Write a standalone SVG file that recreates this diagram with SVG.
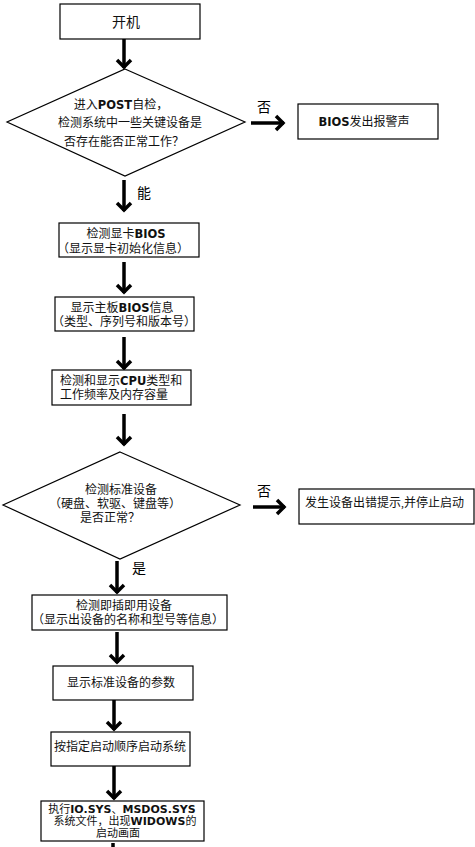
<svg xmlns="http://www.w3.org/2000/svg" width="475" height="847" viewBox="0 0 475 847">
<style>
.box{fill:#fff;stroke:#000;stroke-width:1.2}
.t{font-family:"Liberation Serif","Noto Sans CJK SC",serif;font-size:12px;fill:#111}
.m{text-anchor:middle}
.b{font-family:"DejaVu Sans","Liberation Sans",sans-serif;font-weight:bold;font-size:11.5px}
.lbl{font-family:"Liberation Serif","Noto Sans CJK SC",serif;font-size:14px;fill:#000;text-anchor:middle}
.c{stroke:#000;stroke-width:3.5;fill:none}
.s{font-size:11px}
.s .b{font-size:11px}
</style>
<defs>
<marker id="ah" viewBox="-12 -10 14 20" refX="0" refY="0" markerWidth="14" markerHeight="20" orient="auto" markerUnits="userSpaceOnUse">
<path d="M-8,-7 L-1,0 L-8,7" fill="none" stroke="#000" stroke-width="3.5"/>
</marker>
</defs>
<rect width="475" height="847" fill="#fff"/>
<g id="connectors">
<line class="c" x1="124" y1="39" x2="124" y2="68" marker-end="url(#ah)"/>
<line class="c" x1="251" y1="123" x2="284" y2="123" marker-end="url(#ah)"/>
<line class="c" x1="124" y1="180" x2="124" y2="211" marker-end="url(#ah)"/>
<line class="c" x1="124" y1="262" x2="124" y2="293" marker-end="url(#ah)"/>
<line class="c" x1="124" y1="337" x2="124" y2="369" marker-end="url(#ah)"/>
<line class="c" x1="124" y1="414" x2="124" y2="445" marker-end="url(#ah)"/>
<line class="c" x1="253" y1="507" x2="285" y2="507" marker-end="url(#ah)"/>
<line class="c" x1="117" y1="561" x2="117" y2="593" marker-end="url(#ah)"/>
<line class="c" x1="117" y1="632" x2="117" y2="663" marker-end="url(#ah)"/>
<line class="c" x1="114" y1="700" x2="114" y2="730" marker-end="url(#ah)"/>
<line class="c" x1="114" y1="766" x2="114" y2="799" marker-end="url(#ah)"/>
<line class="c" x1="113" y1="843" x2="113" y2="847"/>
<text class="lbl" x="264" y="112">否</text>
<text class="lbl" x="144" y="198">能</text>
<text class="lbl" x="264" y="496">否</text>
<text class="lbl" x="139" y="573">是</text>
</g>
<g id="n_start">
<rect class="box" x="60" y="4" width="140" height="35"/>
<text class="t m" x="126" y="27" style="font-size:14px">开机</text>
</g>
<g id="n_post">
<polygon class="box" points="125,69 245,122 125,176 7,122"/>
<text class="t m" x="121" y="109">进入<tspan class="b">POST</tspan>自检，</text>
<text class="t m" x="130" y="127">检测系统中一些关键设备是</text>
<text class="t m" x="124" y="146">否存在能否正常工作？</text>
</g>
<g id="n_alarm">
<rect class="box" x="298" y="104" width="140" height="35"/>
<text class="t m" x="364" y="126"><tspan class="b">BIOS</tspan>发出报警声</text>
</g>
<g id="n_vga">
<rect class="box" x="59" y="223" width="140" height="34"/>
<text class="t m" x="126" y="238">检测显卡<tspan class="b">BIOS</tspan></text>
<text class="t m" x="123" y="253">（显示显卡初始化信息）</text>
</g>
<g id="n_board">
<rect class="box" x="55" y="297" width="139" height="34"/>
<text class="t m" x="122" y="312">显示主板<tspan class="b">BIOS</tspan>信息</text>
<text class="t m" x="124" y="326">（类型、序列号和版本号）</text>
</g>
<g id="n_cpu">
<rect class="box" x="52" y="370" width="139" height="35"/>
<text class="t" x="60" y="385">检测和显示<tspan class="b">CPU</tspan>类型和</text>
<text class="t" x="60" y="399">工作频率及内存容量</text>
</g>
<g id="n_std">
<polygon class="box" points="120,452 240,505 120,559 3,505"/>
<text class="t m" x="121" y="494">检测标准设备</text>
<text class="t m" x="115" y="508">（硬盘、软驱、键盘等）</text>
<text class="t m" x="110" y="522">是否正常？</text>
</g>
<g id="n_err">
<rect class="box" x="299" y="489" width="175" height="35"/>
<text class="t" x="305" y="507">发生设备出错提示,并停止启动</text>
</g>
<g id="n_pnp">
<rect class="box" x="32" y="595" width="195" height="35"/>
<text class="t m" x="124" y="610">检测即插即用设备</text>
<text class="t m" x="128" y="624">（显示出设备的名称和型号等信息）</text>
</g>
<g id="n_param">
<rect class="box" x="53" y="666" width="140" height="34"/>
<text class="t m" x="121" y="687">显示标准设备的参数</text>
</g>
<g id="n_boot">
<rect class="box" x="51" y="732" width="139" height="34"/>
<text class="t m" x="120" y="751">按指定启动顺序启动系统</text>
</g>
<g id="n_exec">
<rect class="box" x="41" y="801" width="163" height="40"/>
<text class="t m s" x="122" y="813">执行<tspan class="b">IO.SYS</tspan>、<tspan class="b">MSDOS.SYS</tspan></text>
<text class="t m s" x="125" y="825">系统文件，出现<tspan class="b">WIDOWS</tspan>的</text>
<text class="t m s" x="118" y="837">启动画面</text>
</g>
</svg>
